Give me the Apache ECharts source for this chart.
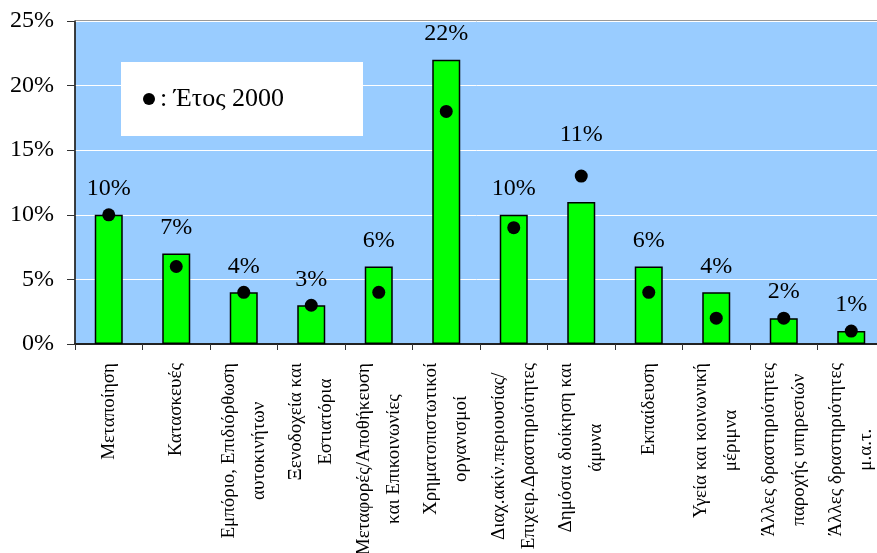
<!DOCTYPE html>
<html>
<head>
<meta charset="utf-8">
<script src="https://cdn.jsdelivr.net/npm/echarts@6/dist/echarts.min.js"></script>
<style>
  html, body { margin: 0; padding: 0; background: #fff; }
  #chart { width: 877px; height: 553px; }
</style>
</head>
<body>
<div id="chart"></div>
<script>
// κλάδοι
const categories = [
  "Μεταποίηση",
  "Κατασκευές",
  "Εμπόριο, Επιδιόρθωση\nαυτοκινήτων",
  "Ξενοδοχεία και\nΕστιατόρια",
  "Μεταφορές/Αποθήκευση\nκαι Επικοινωνίες",
  "Χρηματοπιστωτικοί\nοργανισμοί",
  "Διαχ.ακίν.περιουσίας/\nΕπιχειρ.Δραστηριότητες",
  "Δημόσια διοίκηση και\nάμυνα",
  "Εκπαίδευση",
  "Υγεία και κοινωνική\nμέριμνα",
  "Άλλες δραστηριότητες\nπαροχής υπηρεσιών",
  "Άλλες δραστηριότητες\nμ.α.τ."
];
const shares = [10, 7, 4, 3, 6, 22, 10, 11, 6, 4, 2, 1];
const year2000 = [10, 6, 4, 3, 4, 18, 9, 13, 4, 2, 2, 1];
const legendName = "Έτος 2000";

const serif = "Liberation Serif";
const chart = echarts.init(document.getElementById("chart"));

chart.setOption({
  animation: false,
  grid: {
    left: 75,
    top: 21,
    width: 810,
    height: 323,
    outerBoundsMode: "none",
    show: true,
    backgroundColor: "#99CCFF",
    borderColor: "#333",
    borderWidth: 1,
  },
  legend: {
    data: [legendName],
    left: 121,
    top: 62,
    backgroundColor: "#fff",
    padding: [24, 79, 24, 22],
    itemWidth: 12,
    itemHeight: 12,
    itemStyle: { opacity: 1 },
    icon: "circle",
    formatter: ": {name}",
    textStyle: { fontFamily: serif, fontSize: 26, color: "#000" },
  },
  xAxis: {
    type: "category",
    data: categories,
    axisLine: { lineStyle: { color: "#222", width: 2 } },
    axisTick: { show: true, length: 6, lineStyle: { color: "#333" } },
    axisLabel: {
      rotate: 90,
      margin: 19,
      interval: 0,
      formatter: (v) => v.split("\n").map((s) => "{c|" + s + "}").join("\n"),
      rich: {
        c: { align: "center", fontFamily: serif, fontSize: 19, lineHeight: 30, color: "#000" },
      },
    },
  },
  yAxis: {
    type: "value",
    min: 0,
    max: 25,
    interval: 5,
    axisLine: { show: true, lineStyle: { color: "#222", width: 1.5 } },
    axisTick: { show: true, length: 8, lineStyle: { color: "#333" } },
    splitLine: { lineStyle: { color: "#fff", width: 1 } },
    axisLabel: {
      margin: 21,
      formatter: "{value}%",
      fontFamily: serif,
      fontSize: 24,
      color: "#000",
    },
  },
  series: [
    {
      type: "bar",
      data: shares.map((v, i) =>
        i === 7 ? { value: v, label: { distance: 55 } } : v
      ),
      barWidth: 28,
      itemStyle: { color: "#00FF00", borderColor: "#000", borderWidth: 1.5 },
      label: {
        show: true,
        position: "top",
        distance: 14,
        formatter: "{c}%",
        fontFamily: serif,
        fontSize: 24,
        color: "#000",
      },
      z: 2,
    },
    {
      name: legendName,
      type: "scatter",
      data: year2000,
      symbol: "circle",
      symbolSize: 13,
      itemStyle: { color: "#000", opacity: 1 },
      z: 3,
    },
  ],
});
</script>
</body>
</html>
